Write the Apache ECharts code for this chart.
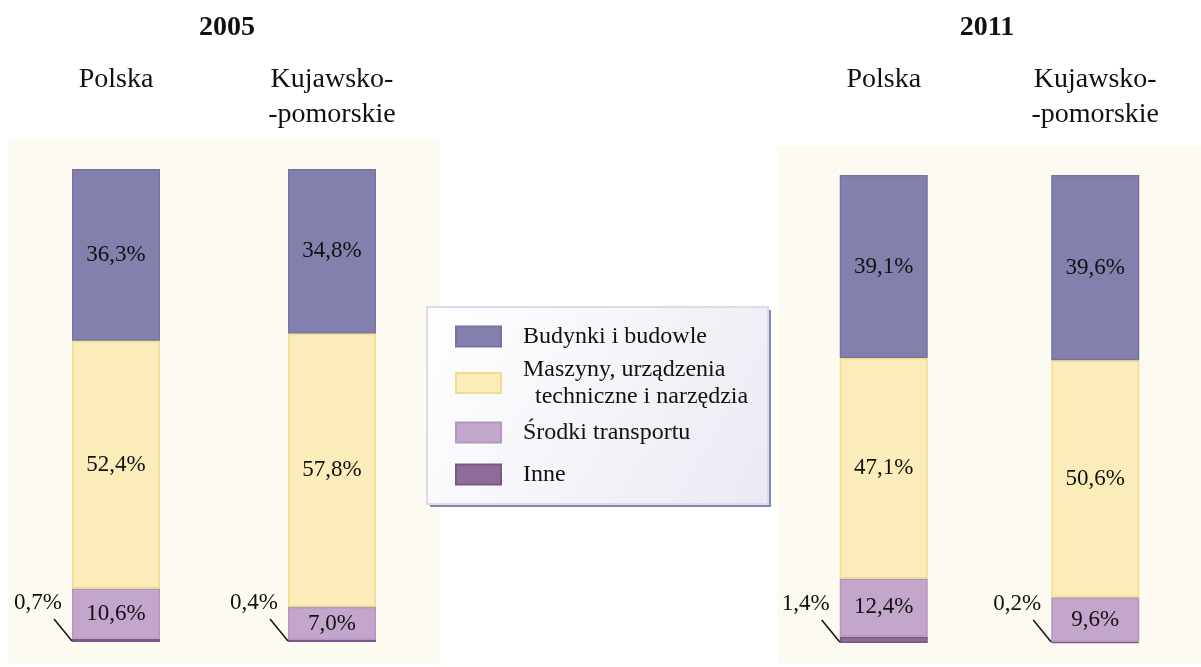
<!DOCTYPE html>
<html>
<head>
<meta charset="utf-8">
<script src="https://cdn.jsdelivr.net/npm/echarts@6/dist/echarts.min.js"></script>
<style>
  html, body { margin: 0; padding: 0; background: #ffffff; }
  #chart { width: 1201px; height: 667px; }
</style>
</head>
<body>
<div id="chart"></div>
<script>
// Struktura wartości brutto środków trwałych (%)
const years = ['2005', '2011'];
const regions = ['Polska', 'Kujawsko-\n-pomorskie'];
const seriesNames = ['Budynki i budowle', 'Maszyny, urządzenia\n\u00a0\u00a0techniczne i narzędzia', 'Środki transportu', 'Inne'];

const budynki2005 = [36.3, 34.8];
const maszyny2005 = [52.4, 57.8];
const srodki2005  = [10.6, 7.0];
const inne2005    = [0.7, 0.4];

const budynki2011 = [39.1, 39.6];
const maszyny2011 = [47.1, 50.6];
const srodki2011  = [12.4, 9.6];
const inne2011    = [1.4, 0.2];

const FONT = "'Liberation Serif', 'Times New Roman', serif";
const colors = {
  budynki: { fill: '#8480ae', border: '#7772a3' },
  maszyny: { fill: '#faedb9', border: '#f3dd8c' },
  srodki:  { fill: '#c3a6cc', border: '#b596c0' },
  inne:    { fill: '#8f6b98', border: '#7a5885' }
};

const fmt = v => v.toFixed(1).replace('.', ',') + '%';

function barSeries(name, data, col, gridIdx, showLabel) {
  return {
    type: 'bar',
    name: name,
    xAxisIndex: gridIdx,
    yAxisIndex: gridIdx,
    stack: 'rok' + gridIdx,
    data: data,
    barWidth: 88,
    itemStyle: { color: col.fill, borderColor: col.border, borderWidth: 1.5 },
    label: {
      show: showLabel,
      position: 'inside',
      formatter: p => fmt(p.value),
      color: '#111',
      fontFamily: FONT,
      fontSize: 23
    },
    emphasis: { disabled: true }
  };
}

// Etykiety małych udziałów z linią odniesienia przy dolnym lewym rogu słupka
function smallLabelSeries(data, gridIdx) {
  return {
    type: 'custom',
    name: seriesNames[3],
    xAxisIndex: gridIdx,
    yAxisIndex: gridIdx,
    data: data.map((v, i) => [i, v]),
    silent: true,
    z: 5,
    renderItem: function (params, api) {
      const base = api.coord([api.value(0), 0]);
      const x0 = base[0] - 44;
      const y0 = base[1] - 1;
      return {
        type: 'group',
        children: [
          { type: 'line', shape: { x1: x0, y1: y0, x2: x0 - 18, y2: y0 - 22 },
            style: { stroke: '#1a1a1a', lineWidth: 1.6 } },
          { type: 'text', style: { text: fmt(api.value(1)), x: x0 - 10, y: y0 - 38,
            align: 'right', verticalAlign: 'middle', fill: '#111',
            font: '23px ' + FONT } }
        ]
      };
    }
  };
}

function xAxis(gridIdx, margin) {
  return {
    type: 'category',
    gridIndex: gridIdx,
    data: regions,
    position: 'top',
    axisLine: { show: false },
    axisTick: { show: false },
    axisLabel: {
      margin: margin,
      verticalAlign: 'top',
      lineHeight: 35,
      fontFamily: FONT,
      fontSize: 28,
      color: '#111',
      interval: 0
    }
  };
}

function yAxis(gridIdx) {
  return { type: 'value', gridIndex: gridIdx, min: 0, max: 100, show: false };
}

const legendTops = [323, 356, 419, 461];
const legends = seriesNames.map((n, i) => ({
  data: [{ name: n, icon: 'rect' }],
  orient: 'vertical',
  left: 455,
  top: legendTops[i],
  padding: 0,
  itemWidth: 45,
  itemHeight: 20,
  selectedMode: false,
  textStyle: { fontFamily: FONT, fontSize: 24, lineHeight: 27, color: '#111', padding: [0, 0, 0, 17] }
}));

const chart = echarts.init(document.getElementById('chart'), null, { renderer: 'canvas' });
chart.setOption({
  backgroundColor: '#ffffff',
  animation: false,
  title: [
    { text: years[0], left: 222, top: 9, textAlign: 'center',
      textStyle: { fontFamily: FONT, fontSize: 28, fontWeight: 'bold', color: '#111' } },
    { text: years[1], left: 982, top: 9, textAlign: 'center',
      textStyle: { fontFamily: FONT, fontSize: 28, fontWeight: 'bold', color: '#111' } }
  ],
  graphic: [
    { type: 'rect', z: -10, shape: { x: 8, y: 139, width: 432, height: 525 }, style: { fill: '#fdfaf2' } },
    { type: 'rect', z: -10, shape: { x: 777, y: 146, width: 424, height: 518 }, style: { fill: '#fdfaf2' } },
    { type: 'rect', z: 1, shape: { x: 430, y: 310, width: 341, height: 197 }, style: { fill: '#8585af' } },
    { type: 'rect', z: 2, shape: { x: 427, y: 307, width: 341, height: 197 },
      style: {
        fill: { type: 'linear', x: 0, y: 0, x2: 1, y2: 1,
          colorStops: [{ offset: 0, color: '#ffffff' }, { offset: 1, color: '#ebe9f3' }] },
        stroke: '#dcdaee', lineWidth: 2
      } }
  ],
  legend: legends,
  grid: [
    { left: 8, top: 169, width: 432, height: 473 },
    { left: 778, top: 175, width: 430, height: 468 }
  ],
  xAxis: [xAxis(0, 107), xAxis(1, 113)],
  yAxis: [yAxis(0), yAxis(1)],
  series: [
    barSeries(seriesNames[3], inne2005, colors.inne, 0, false),
    barSeries(seriesNames[2], srodki2005, colors.srodki, 0, true),
    barSeries(seriesNames[1], maszyny2005, colors.maszyny, 0, true),
    barSeries(seriesNames[0], budynki2005, colors.budynki, 0, true),
    smallLabelSeries(inne2005, 0),
    barSeries(seriesNames[3], inne2011, colors.inne, 1, false),
    barSeries(seriesNames[2], srodki2011, colors.srodki, 1, true),
    barSeries(seriesNames[1], maszyny2011, colors.maszyny, 1, true),
    barSeries(seriesNames[0], budynki2011, colors.budynki, 1, true),
    smallLabelSeries(inne2011, 1)
  ]
});
</script>
</body>
</html>
